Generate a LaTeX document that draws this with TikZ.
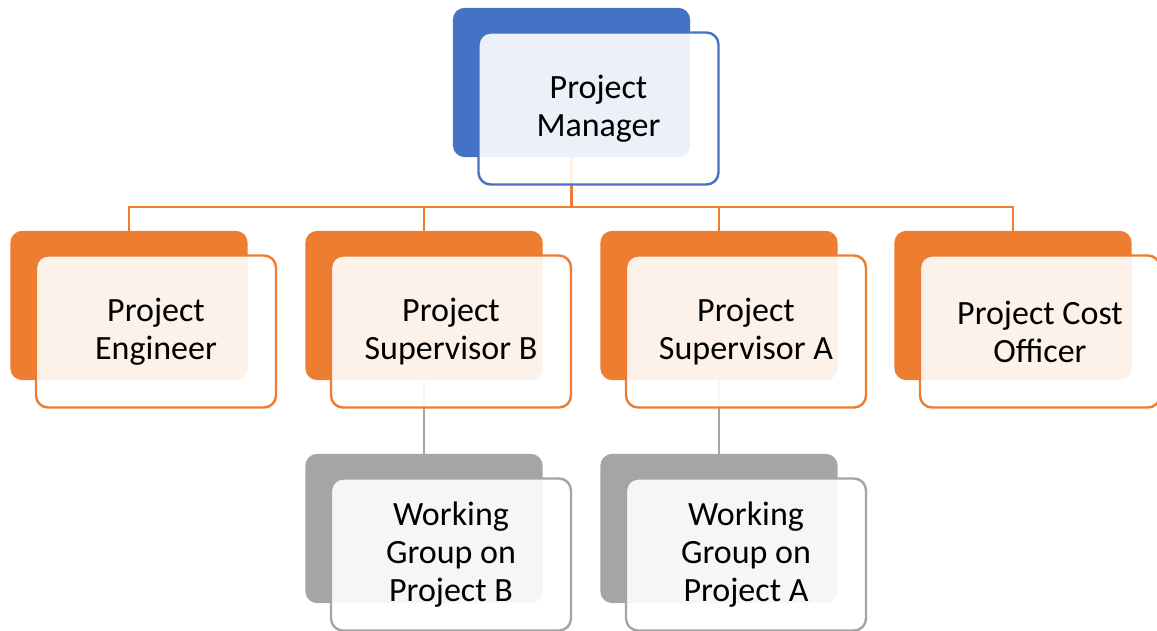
\documentclass[tikz,border=0pt]{standalone}
\usepackage{fontspec}
\setmainfont{Carlito}
\usetikzlibrary{positioning}

\definecolor{azul}{HTML}{4472C4}
\definecolor{naranja}{HTML}{ED7D31}
\definecolor{gris}{HTML}{A5A5A5}

\begin{document}
\begin{tikzpicture}[x=0.75pt, y=0.75pt,
    fondo/.style={rectangle, rounded corners=9pt, fill=#1, inner sep=0pt,
      minimum width=178pt, minimum height=112pt},
    frente/.style={rectangle, rounded corners=9pt, draw=#1, line width=1.8pt,
      fill=white, fill opacity=0.9, text opacity=1, xshift=20.25pt, yshift=-19.5pt,
      minimum width=180pt, minimum height=114pt, align=center,
      font=\fontsize{25.5}{28.5}\selectfont},
    enlace/.style={draw=#1, line width=1.8pt}]
    \useasboundingbox (0,0) rectangle (1157,631);

    % Rectángulos de fondo
    \node[fondo=azul] (pmB) at (571.5,548.5) {};
    \node[fondo=naranja] (peB) at (129,325.5) {};
    \node[fondo=naranja] (psbB) at (424,325.5) {};
    \node[fondo=naranja] (psaB) at (719,325.5) {};
    \node[fondo=naranja] (pcoB) at (1013,325.5) {};
    \node[fondo=gris] (wgbB) at (424,102.5) {};
    \node[fondo=gris] (wgaB) at (719,102.5) {};

    % Conexiones
    \coordinate (bus) at (571.5,424);
    \draw[enlace=naranja] (pmB.south) -- (bus) -| (peB.north);
    \draw[enlace=naranja] (bus) -| (psbB.north);
    \draw[enlace=naranja] (bus) -| (psaB.north);
    \draw[enlace=naranja] (bus) -| (pcoB.north);
    \draw[enlace=gris] (psbB.south) -- (wgbB.north);
    \draw[enlace=gris] (psaB.south) -- (wgaB.north);

    % Rectángulos con texto
    \node[frente=azul] (pm) at (pmB) {Project\\Manager};
    \node[frente=naranja] (pe) at (peB) {Project\\Engineer};
    \node[frente=naranja] (psb) at (psbB) {Project\\Supervisor B};
    \node[frente=naranja] (psa) at (psaB) {Project\\Supervisor A};
    \node[frente=naranja] (pco) at (pcoB) {Project Cost\\Officer};
    \node[frente=gris] (wgb) at (wgbB) {Working\\Group on\\Project B};
    \node[frente=gris] (wga) at (wgaB) {Working\\Group on\\Project A};
\end{tikzpicture}
\end{document}
